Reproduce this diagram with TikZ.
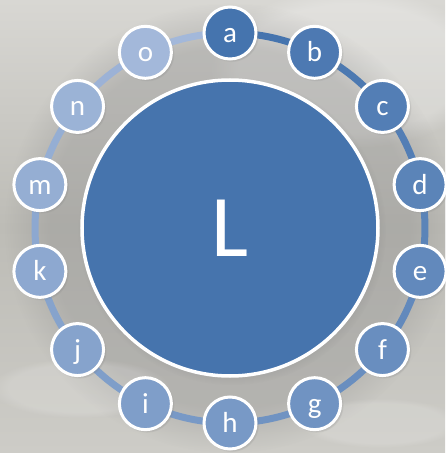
\documentclass[tikz,border=0pt]{standalone}
\usepackage{fontspec}
\setmainfont{Carlito}
\usetikzlibrary{shadows,fadings}
\definecolor{ringdark}{HTML}{4574AE}
\definecolor{ringlight}{HTML}{A3B8DA}
\definecolor{hubblue}{HTML}{4674AD}
\definecolor{phototop}{HTML}{D8D7D3}
\definecolor{photomid}{HTML}{BDBCB6}
\definecolor{photolow}{HTML}{CDCCC7}
\pgfdeclarelayer{photo}
\pgfdeclarelayer{ring}
\pgfsetlayers{photo,ring,main}

\begin{document}
\begin{tikzpicture}[x=1pt,y=1pt,
  leaf/.style={circle,draw=white,line width=3pt,minimum size=52pt,inner sep=0pt,
    text=white,font=\fontsize{29}{29}\selectfont,text height=19pt,text depth=0pt,
    circular drop shadow={shadow xshift=1.5pt,shadow yshift=-1.5pt,
      shadow scale=1.06,opacity=.45}},
  hub/.style={circle,draw=white,line width=3.5pt,minimum size=296pt,inner sep=0pt,
    fill=hubblue,text=white,font=\fontsize{88}{88}\selectfont,
    circular drop shadow={shadow xshift=2pt,shadow yshift=-3pt,
      shadow scale=1.04,opacity=.45}},
  ringseg/.style={line width=7pt},
  blur/.style={path fading=circle with fuzzy edge 20 percent}]
\useasboundingbox (-230,-225) rectangle (215,228);
% photo behind the diagram
\begin{pgfonlayer}{photo}
 \fill[top color=phototop,bottom color=photolow,middle color=photomid]
   (-230,-225) rectangle (215,228);
 \fill[white,opacity=.25,blur] (120,160) ellipse (140 and 80);
 \fill[black!45,opacity=.35,blur] (0,0) circle (225);
 \fill[white,opacity=.15,blur] (-150,-160) ellipse (90 and 30);
 \fill[white,opacity=.15,blur] (150,-195) ellipse (80 and 25);
\end{pgfonlayer}
% hub
\node[hub] (L) at (0,0) {L};
% letters round the ring
\foreach \n [count=\i from 0] in {a,b,c,d,e,f,g,h,i,j,k,m,n,o}{
  \pgfmathsetmacro{\ang}{90-\i*360/14}
  \pgfmathtruncatemacro{\mix}{round(100*\i/13)}
  \colorlet{leafcol}{ringlight!\mix!ringdark}
  \node[leaf,fill=leafcol] (\n) at (\ang:195) {\n};
  \begin{pgfonlayer}{ring}
   \draw[ringseg,leafcol] (\n.center) arc[start angle=\ang,delta angle=-360/14,radius=195];
  \end{pgfonlayer}
}
\end{tikzpicture}
\end{document}
